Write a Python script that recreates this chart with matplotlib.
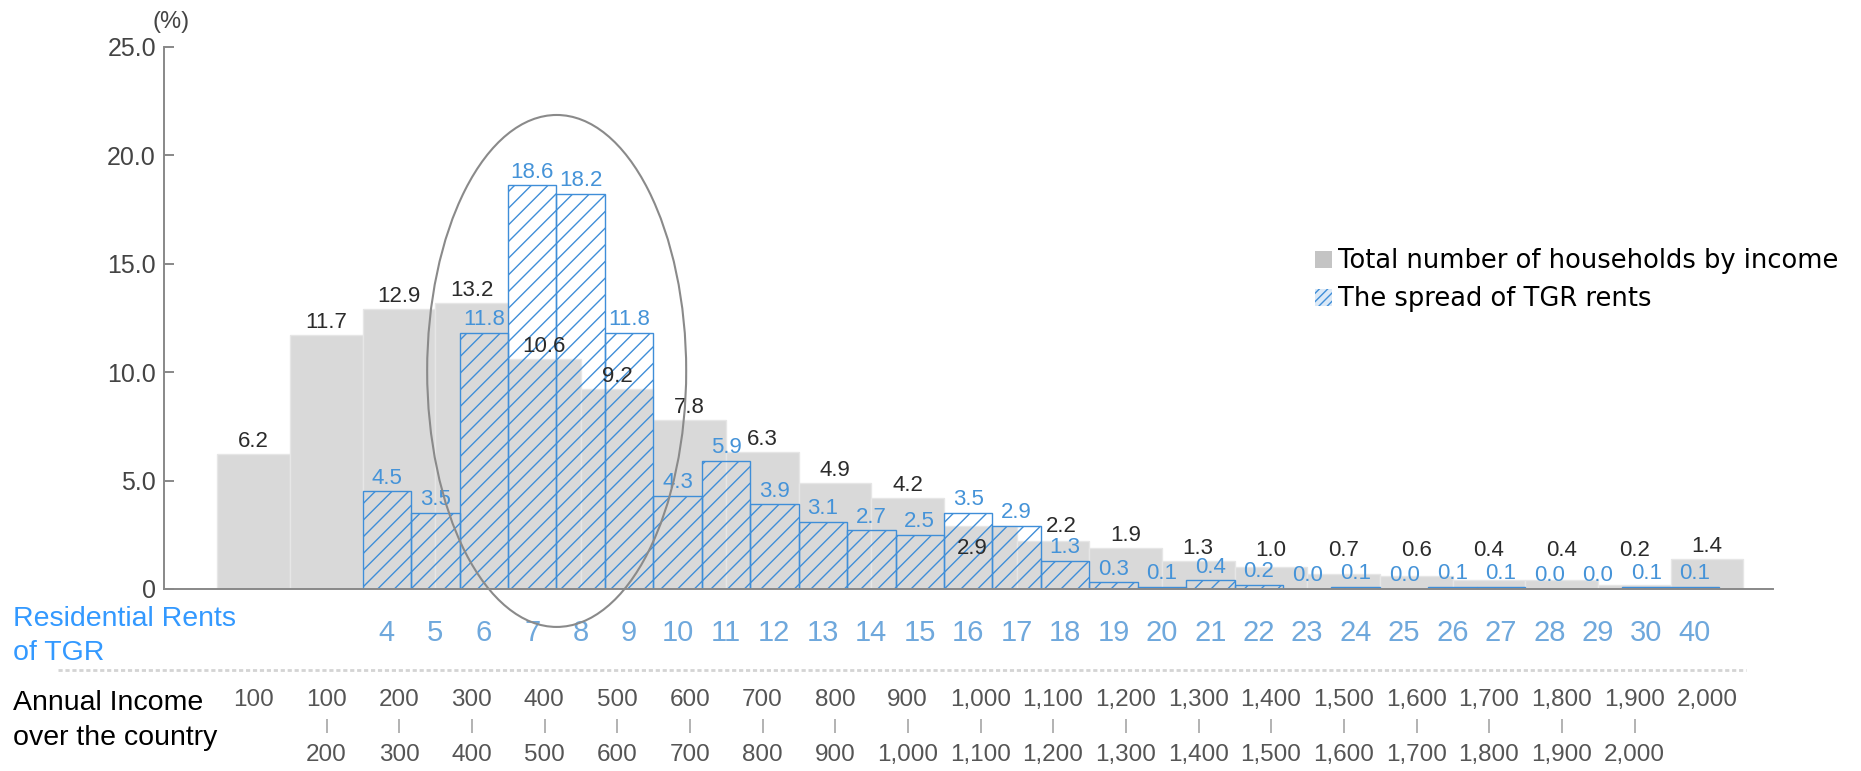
import numpy as np
import matplotlib
matplotlib.use('Agg')
import matplotlib.pyplot as plt
from matplotlib.patches import Ellipse, Patch
from matplotlib.lines import Line2D

plt.rcParams['font.family'] = ['Liberation Sans', 'DejaVu Sans']
plt.rcParams['hatch.linewidth'] = 1.0

# income bins (ten thousand won), top / bottom row of the two-line labels
income_top = ['100', '100', '200', '300', '400', '500', '600', '700', '800', '900',
              '1,000', '1,100', '1,200', '1,300', '1,400', '1,500', '1,600', '1,700',
              '1,800', '1,900', '2,000']
income_bottom = ['', '200', '300', '400', '500', '600', '700', '800', '900', '1,000',
                 '1,100', '1,200', '1,300', '1,400', '1,500', '1,600', '1,700', '1,800',
                 '1,900', '2,000', '']
household_share = [6.2, 11.7, 12.9, 13.2, 10.6, 9.2, 7.8, 6.3, 4.9, 4.2, 2.9,
                   2.2, 1.9, 1.3, 1.0, 0.7, 0.6, 0.4, 0.4, 0.2, 1.4]

rent_labels = ['4', '5', '6', '7', '8', '9', '10', '11', '12', '13', '14', '15', '16',
               '17', '18', '19', '20', '21', '22', '23', '24', '25', '26', '27', '28',
               '29', '30', '40']
rent_share = [4.5, 3.5, 11.8, 18.6, 18.2, 11.8, 4.3, 5.9, 3.9, 3.1, 2.7, 2.5, 3.5,
              2.9, 1.3, 0.3, 0.1, 0.4, 0.2, 0.0, 0.1, 0.0, 0.1, 0.1, 0.0, 0.0, 0.1, 0.1]

gray = '#d9d9d9'
blue = '#3f8ed8'

fig = plt.figure(figsize=(18.61, 7.71), dpi=100)
ax = fig.add_axes([0.0883, 0.2361, 0.8644, 0.7034])

x_gray = np.arange(len(household_share)) + 0.5
blue_w = 2 / 3
x_blue = 2 + (np.arange(len(rent_share)) + 0.5) * blue_w

ax.bar(x_gray, household_share, width=1.0, color=gray, edgecolor='#e6e6e6',
       linewidth=1, zorder=1)
ax.bar(x_blue, rent_share, width=blue_w, facecolor='none', edgecolor=blue,
       hatch='//', linewidth=1.0, zorder=2)

# label nudges (points) where the two series' labels would collide
nudge = {10: (-6, -24), 11: (6, 3)}
# small gray labels are lifted so they clear the blue ones underneath
for i, (x, v) in enumerate(zip(x_gray, household_share)):
    ax.annotate(f'{v:.1f}', (x, max(v, 1.2)), xytext=nudge.get(i, (0, 1.5)),
                textcoords='offset points', ha='center', va='bottom',
                fontsize=16, color='#2b2b2b', zorder=4)
for x, v in zip(x_blue, rent_share):
    ax.annotate(f'{v:.1f}', (x, v), xytext=(0, 2), textcoords='offset points',
                ha='center', va='bottom', fontsize=16, color='#4593d8', zorder=4)

# circle around the peak
ax.add_patch(Ellipse((4.67, 10.05), 3.565, 23.6, fill=False, edgecolor='#8a8a8a',
                     linewidth=1.5, clip_on=False, zorder=5))

ax.set_xlim(-0.73, 21.41)
ax.set_ylim(0, 25)
ax.set_yticks([0, 5, 10, 15, 20, 25], ['0', '5.0', '10.0', '15.0', '20.0', '25.0'])
ax.tick_params(axis='y', direction='in', length=7, width=1.4, color='#888888',
               labelsize=18, labelcolor='#444444', pad=6)
ax.set_xticks([])
for s in ['top', 'right']:
    ax.spines[s].set_visible(False)
for s in ['left', 'bottom']:
    ax.spines[s].set_color('#888888')
    ax.spines[s].set_linewidth(1.4)

tr = ax.get_xaxis_transform()
for x, lab in zip(x_blue, rent_labels):
    ax.text(x, -0.0811, lab, transform=tr, ha='center', va='center',
            fontsize=21, color='#6fa8dc')
for x, top, bot in zip(x_gray, income_top, income_bottom):
    ax.text(x, -0.2047, top, transform=tr, ha='center', va='center',
            fontsize=17.5, color='#555555')
    if bot:
        ax.text(x, -0.2526, '|', transform=tr, ha='center', va='center',
                fontsize=11, color='#888888')
        ax.text(x, -0.3061, bot, transform=tr, ha='center', va='center',
                fontsize=17.5, color='#555555')

fig.text(0.0919, 0.9715, '(%)', ha='center', va='center', fontsize=17, color='#444444')
fig.text(0.0072, 0.188, 'Residential Rents', ha='left', va='baseline',
         fontsize=20.5, color='#3399ff')
fig.text(0.0072, 0.144, 'of TGR', ha='left', va='baseline', fontsize=20.5, color='#3399ff')
fig.text(0.0072, 0.079, 'Annual Income', ha='left', va='baseline', fontsize=20.5,
         color='black')
fig.text(0.0072, 0.034, 'over the country', ha='left', va='baseline', fontsize=20.5,
         color='black')

fig.add_artist(Line2D([0.031, 0.938], [0.131, 0.131], transform=fig.transFigure,
                      color='#d4d4d4', linewidth=2, linestyle=(0, (1.5, 1))))

handles = [Patch(facecolor='#c4c4c4', edgecolor='none'),
           Patch(facecolor='#dbe9f7', edgecolor=blue, hatch='////', linewidth=0)]
ax.legend(handles, ['Total number of households by income', 'The spread of TGR rents'],
          loc='upper left', bbox_to_anchor=(0.7066, 0.678), bbox_transform=fig.transFigure,
          frameon=False, borderpad=0, borderaxespad=0, handlelength=0.66,
          handleheight=0.66, handletextpad=0.25, labelspacing=0.47,
          prop={'family': 'DejaVu Sans', 'size': 18.5})

fig.savefig('out.png', dpi=100)
